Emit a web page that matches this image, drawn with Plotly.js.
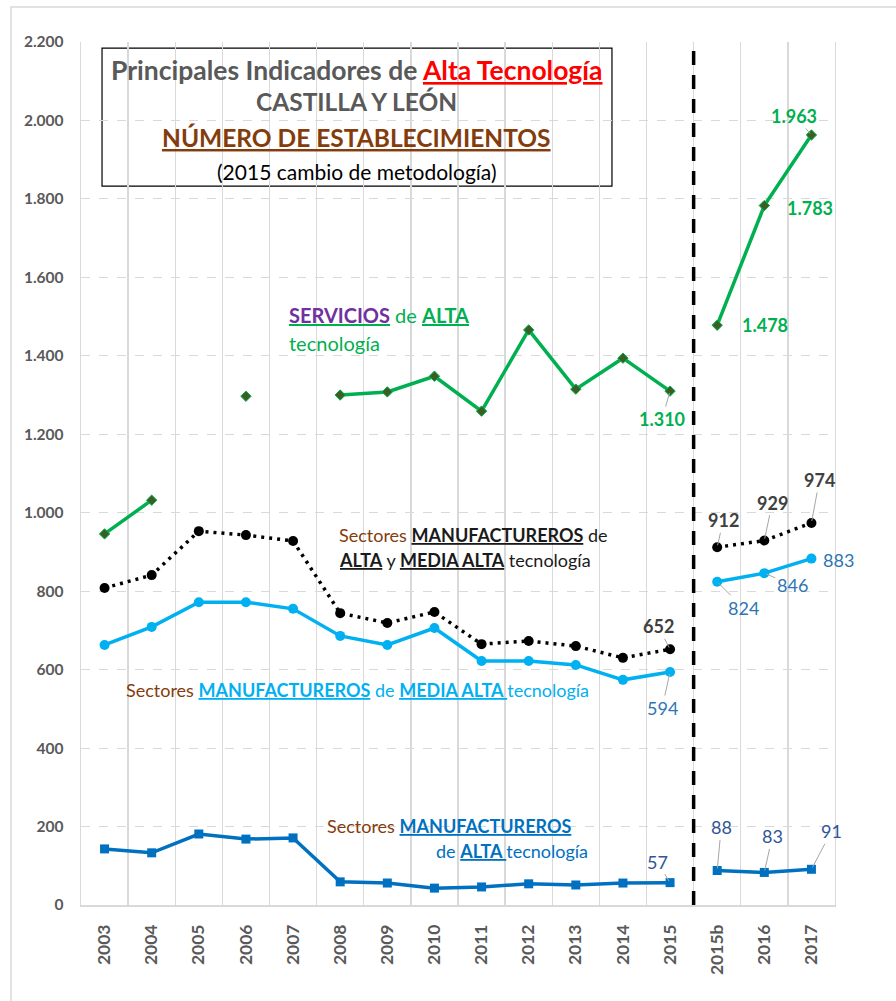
<!DOCTYPE html>
<html>
<head>
<meta charset="utf-8">
<script src="https://cdn.plot.ly/plotly-3.0.1.min.js"></script>
<style>html,body{margin:0;padding:0;background:#fff;}#chart{width:896px;height:1001px;}</style>
</head>
<body>
<div id="chart"></div>
<script>
// ---- data ----
const years = ['2003','2004','2005','2006','2007','2008','2009','2010','2011','2012','2013','2014','2015','2015b','2016','2017'];
const servicios = [946, 1032, null, 1297, null, 1300, 1308, 1348, 1259, 1466, 1315, 1394, 1310, 1478, 1783, 1963];
const manufAltaMediaAlta = [808, 841, 953, 943, 928, 744, 719, 747, 665, 673, 660, 630, 652, 912, 929, 974];
const manufMediaAlta = [663, 709, 772, 772, 755, 686, 663, 706, 622, 622, 612, 574, 594, 824, 846, 883];
const manufAlta = [143, 133, 181, 168, 171, 59, 56, 43, 46, 54, 51, 56, 57, 88, 83, 91];
const splitAt = 13; // first category of the new methodology (2015b)
const labelled = [12, 13, 14, 15]; // indices with value labels

const FONT = 'Lato, "Open Sans", sans-serif';
function fmt(v){ return String(v).replace(/\B(?=(\d{3})+(?!\d))/g, '.'); }

const seriesDefs = [
  {y: servicios, line:{color:'#00B050', width:3.5}, marker:{symbol:'diamond', size:8, color:'#3B5E22', line:{color:'#00B050', width:1}}},
  {y: manufAltaMediaAlta, line:{color:'#000000', width:3.5, dash:'3px,5px'}, marker:{symbol:'circle', size:10, color:'#000000'}},
  {y: manufMediaAlta, line:{color:'#00B0F0', width:3.5}, marker:{symbol:'circle', size:10, color:'#00B0F0'}},
  {y: manufAlta, line:{color:'#0070C0', width:3.5}, marker:{symbol:'square', size:9, color:'#0070C0'}}
];

const traces = [];
seriesDefs.forEach(s => {
  [[0, splitAt], [splitAt, years.length]].forEach(([a, b]) => {
    traces.push({
      type:'scatter', mode:'lines+markers',
      x: years.slice(a, b), y: s.y.slice(a, b),
      line: s.line, marker: s.marker, connectgaps:false,
      showlegend:false, hoverinfo:'skip'
    });
  });
});

// label styles: per series font + offsets (pixels) for indices 12..15, leader flag
const labelStyles = [
  {y: servicios, font:{family:FONT, size:18, color:'#00B050', weight:'bold'},
   off:[[-8,28,1],[48,0,0],[46,2,0],[-17,-19,1]]},
  {y: manufAltaMediaAlta, font:{family:FONT, size:18, color:'#404040', weight:'bold'},
   off:[[-12,-23,1],[6,-27,1],[8,-38,1],[8,-43,1]]},
  {y: manufMediaAlta, font:{family:FONT, size:18, color:'#2E75B6'},
   off:[[-8,36,1],[26,26,1],[28,12,1],[27,1,0]]},
  {y: manufAlta, font:{family:FONT, size:18, color:'#2F5597'},
   off:[[-13,-21,1],[4,-43,1],[8,-36,1],[20,-38,1]]}
];

const annotations = [];
labelStyles.forEach(ls => {
  labelled.forEach((idx, k) => {
    const o = ls.off[k];
    annotations.push({
      x: idx, y: ls.y[idx], xref:'x', yref:'y',
      text: fmt(ls.y[idx]), font: ls.font,
      showarrow:true, arrowhead:0, arrowwidth:1, standoff:2,
      arrowcolor: o[2] ? '#A6A6A6' : 'rgba(0,0,0,0)',
      ax:o[0], ay:o[1]
    });
  });
});

function txt(text, x, y, size, color, xanchor){
  annotations.push({text:text, x:x, y:y, xref:'paper', yref:'paper', showarrow:false,
    xanchor:xanchor||'center', yanchor:'middle', align:'left',
    font:{family:FONT, size:size, color:color}});
}
// title box text
txt('<b>Principales Indicadores de <span style="color:#FF0000"><u>Alta Tecnología</u></span></b>', 0.366, 0.9676, 26.5, '#595959');
txt('<b>CASTILLA Y LEÓN</b>', 0.366, 0.9305, 24.5, '#595959');
txt('<b><u>NÚMERO DE ESTABLECIMIENTOS</u></b>', 0.366, 0.8888, 24.5, '#843C0C');
txt('(2015 cambio de metodología)', 0.366, 0.8505, 21, '#000000');
// series captions
txt('<b><u><span style="color:#7030A0">SERVICIOS</span></u></b> de <b><u>ALTA</u></b>', 0.2732, 0.6837, 20, '#00B050', 'left');
txt('tecnología', 0.2732, 0.6512, 20, '#00B050', 'left');
txt('<span style="color:#843C0C">Sectores</span> <b><u>MANUFACTUREROS</u></b> de', 0.3395, 0.4287, 18, '#1A1A1A', 'left');
txt('<b><u>ALTA</u></b> y <b><u>MEDIA ALTA</u></b> tecnología', 0.3395, 0.3998, 18, '#1A1A1A', 'left');
txt('<span style="color:#843C0C">Sectores</span> <b><u>MANUFACTUREROS</u></b> de <b><u>MEDIA ALTA </u></b>tecnología', 0.057, 0.2491, 18, '#00B0F0', 'left');
txt('<span style="color:#843C0C">Sectores</span> <b><u>MANUFACTUREROS</u></b>', 0.3236, 0.0915, 18, '#0070C0', 'left');
txt('de <b><u>ALTA </u></b>tecnología', 0.4682, 0.0626, 18, '#0070C0', 'left');

const shapes = [
  {type:'rect', xref:'paper', yref:'paper', x0:-0.0928, x1:1.2, y0:-0.2, y1:1.0406, line:{color:'#D9D9D9', width:1.5}, fillcolor:'rgba(0,0,0,0)', layer:'below'},
  {type:'rect', xref:'paper', yref:'paper', x0:0.0279, x1:0.7042, y0:0.8331, y1:0.9930, line:{color:'#000000', width:1.2}, fillcolor:'#FFFFFF', layer:'below'},
  {type:'line', xref:'x', yref:'y', x0:12.5, x1:12.5, y0:0, y1:2200, line:{color:'#000000', width:3.5, dash:'14px,10px'}}
];

const layout = {
  width:896, height:1001,
  margin:{l:81, r:61, t:42, b:96},
  paper_bgcolor:'#FFFFFF', plot_bgcolor:'rgba(0,0,0,0)',
  separators:',.',
  font:{family:FONT},
  showlegend:false,
  xaxis:{type:'category', categoryorder:'array', categoryarray:years, range:[-0.5, 15.5],
    tickson:'boundaries', ticks:'', showgrid:true, gridcolor:'#D9D9D9', gridwidth:1.3,
    showline:true, linecolor:'#D9D9D9', linewidth:1.5, tickangle:-90, ticklabelstandoff:11,
    tickfont:{family:FONT, size:17.5, color:'#595959', weight:'bold'}, fixedrange:true},
  yaxis:{range:[0, 2200], dtick:200, tick0:0, tickformat:',d', showgrid:true, griddash:'dash',
    gridcolor:'#D9D9D9', gridwidth:1, zeroline:false, showline:true, mirror:true,
    linecolor:'#D9D9D9', linewidth:1.3, ticks:'',
    ticklabelstandoff:13,
    tickfont:{family:FONT, size:15.5, color:'#595959', weight:'bold'}, fixedrange:true},
  shapes:shapes,
  annotations:annotations
};

Plotly.newPlot('chart', traces, layout, {displayModeBar:false, staticPlot:true});
</script>
</body>
</html>
